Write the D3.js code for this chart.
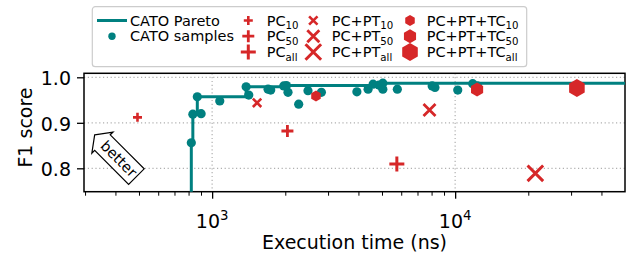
<!DOCTYPE html>
<html><head><meta charset="utf-8">
<script src="https://cdn.jsdelivr.net/npm/d3@7"></script>
<style>
body{margin:0;background:#fff}
svg{display:block}
text{font-family:"DejaVu Sans",sans-serif;fill:#000}
</style>
</head><body>
<svg id="c" width="631" height="255"></svg>
<script>
// ---- data ----
const sampleTime = [821, 833, 901, 869, 1075, 1380, 1415, 1699, 1742, 1971, 2022, 2052, 2271, 2480, 2816, 3942, 4383, 4596, 4856, 5041, 5041, 5783, 8045, 8260, 10250, 11810, 12350];
const sampleF1   = [0.856, 0.919, 0.920, 0.957, 0.948, 0.979, 0.961, 0.974, 0.972, 0.981, 0.982, 0.967, 0.941, 0.9706, 0.967, 0.968, 0.974, 0.985, 0.983, 0.987, 0.974, 0.974, 0.981, 0.9776, 0.972, 0.986, 0.981];
const paretoTime = [821, 821, 833, 869, 1380, 1971, 2022, 4596, 5041, 50000];
const paretoF1   = [0.70, 0.856, 0.919, 0.957, 0.979, 0.981, 0.982, 0.985, 0.987, 0.987];
const methodLabels = ["PC", "PC+PT", "PC+PT+TC"];
const sizeLabels = ["10", "50", "all"];
const methodTime = [[493, 2041, 5756], [1531, 7843, 21380], [2675, 12310, 31700]];
const methodF1   = [[0.912, 0.882, 0.8095], [0.944, 0.928, 0.789], [0.959, 0.973, 0.9765]];
const xMajorTicks = [1000, 10000];
const xMajorExp = ["3", "4"];
const xMinorTicks = [300,400,500,600,700,800,900,2000,3000,4000,5000,6000,7000,8000,9000,20000,30000,40000];
const yTicks = [0.8, 0.9, 1.0];
const yTickLabels = ["0.8", "0.9", "1.0"];
const xLabel = "Execution time (ns)";
const yLabel = "F1 score";
const paretoLabel = "CATO Pareto";
const samplesLabel = "CATO samples";

// ---- layout ----
const TEAL = "#008080", RED = "#d62728";
const L = 84, R = 625, T = 73.3, B = 191.7;
const svg = d3.select("#c");
const x = d3.scaleLog().domain([297, 50000]).range([L, R]);
const y = d3.scaleLinear().domain([0.7486, 1.0088]).range([B, T]);

svg.append("defs").append("clipPath").attr("id", "clip")
  .append("rect").attr("x", L).attr("y", T).attr("width", R - L).attr("height", B - T);

// grid
const grid = svg.append("g").attr("stroke", "#b0b0b0").attr("stroke-width", 1.2).attr("stroke-dasharray", "1.2,2.6");
grid.selectAll(".gx").data(xMajorTicks).join("line")
  .attr("x1", d => x(d)).attr("x2", d => x(d)).attr("y1", T).attr("y2", B);
grid.selectAll(".gy").data(yTicks).join("line")
  .attr("x1", L).attr("x2", R).attr("y1", d => y(d)).attr("y2", d => y(d));

// axes
const xAxis = svg.append("g").attr("transform", `translate(0,${B})`)
  .call(d3.axisBottom(x).tickValues(xMajorTicks).tickSize(7).tickFormat(""));
xAxis.select(".domain").remove();
xAxis.selectAll(".tick line").attr("stroke-width", 1.3);
svg.append("g").attr("transform", `translate(0,${B})`)
  .call(d3.axisBottom(x).tickValues(xMinorTicks).tickSize(4).tickFormat(""))
  .call(g => g.select(".domain").remove())
  .selectAll(".tick line").attr("stroke-width", 1);
xMajorTicks.forEach((t, i) => {
  const tx = svg.append("text").attr("x", x(t)).attr("y", 228).attr("text-anchor", "middle").attr("font-size", 19);
  tx.append("tspan").text("10");
  tx.append("tspan").attr("font-size", 13.3).attr("dy", -8).text(xMajorExp[i]);
});
const yAxis = svg.append("g").attr("transform", `translate(${L},0)`)
  .call(d3.axisLeft(y).tickValues(yTicks).tickSize(7).tickPadding(6).tickFormat((d, i) => yTickLabels[i]));
yAxis.select(".domain").remove();
yAxis.selectAll(".tick line").attr("stroke-width", 1.3);
yAxis.selectAll(".tick text").attr("font-size", 19).attr("font-family", "DejaVu Sans").attr("dy", "0.4em");

// frame
svg.append("rect").attr("x", L).attr("y", T).attr("width", R - L).attr("height", B - T)
  .attr("fill", "none").attr("stroke", "#000").attr("stroke-width", 1.5);

// labels
svg.append("text").attr("x", (L + R) / 2).attr("y", 249).attr("text-anchor", "middle").attr("font-size", 19).text(xLabel);
svg.append("text").attr("transform", "translate(31.5,127.5) rotate(-90)").attr("text-anchor", "middle").attr("font-size", 19).text(yLabel);

// marker shapes
const plusSize = [4.5, 6, 7.5], plusW = [2.6, 2.8, 3];
const xSize = [4.2, 6, 7.8], xW = [2.6, 2.8, 3];
const hexR = [5.5, 7, 9];
function drawMarker(g, m, s, cx, cy) {
  if (m === 0) {
    const h = plusSize[s];
    g.append("path").attr("d", `M${cx - h},${cy}H${cx + h}M${cx},${cy - h}V${cy + h}`)
      .attr("stroke", RED).attr("stroke-width", plusW[s]).attr("fill", "none");
  } else if (m === 1) {
    const h = xSize[s];
    g.append("path").attr("d", `M${cx - h},${cy - h}L${cx + h},${cy + h}M${cx - h},${cy + h}L${cx + h},${cy - h}`)
      .attr("stroke", RED).attr("stroke-width", xW[s]).attr("fill", "none");
  } else {
    const r = hexR[s];
    const pts = d3.range(6).map(k => {
      const a = -Math.PI / 2 + k * Math.PI / 3;
      return [cx + r * Math.cos(a), cy + r * Math.sin(a)];
    });
    g.append("path").attr("d", "M" + pts.map(p => p.join(",")).join("L") + "Z").attr("fill", RED);
  }
}

// data marks
const plot = svg.append("g").attr("clip-path", "url(#clip)");
plot.selectAll("circle").data(sampleTime).join("circle")
  .attr("cx", d => x(d)).attr("cy", (d, i) => y(sampleF1[i])).attr("r", 4.6).attr("fill", TEAL);
const line = d3.line().x(d => x(d[0])).y(d => y(d[1])).curve(d3.curveStepAfter);
plot.append("path").attr("d", line(paretoTime.map((t, i) => [t, paretoF1[i]])))
  .attr("fill", "none").attr("stroke", TEAL).attr("stroke-width", 3);
methodTime.forEach((row, m) => row.forEach((t, s) => drawMarker(plot, m, s, x(t), y(methodF1[m][s]))));

// "better" arrow
const bet = svg.append("g").attr("transform", "translate(117.3,157.5) rotate(45)");
bet.append("path").attr("d", "M-32,0L-21,-15L-21,-11L27,-11L27,11L-21,11L-21,15Z")
  .attr("fill", "#fff").attr("stroke", "#000").attr("stroke-width", 1.2).attr("stroke-linejoin", "miter");
bet.append("text").attr("x", 2).attr("y", 5).attr("text-anchor", "middle").attr("font-size", 14.5).text("better");

// legend
const lg = svg.append("g");
lg.append("rect").attr("x", 92.3).attr("y", 6.7).attr("width", 434.4).attr("height", 60).attr("rx", 3)
  .attr("fill", "#fff").attr("fill-opacity", 0.8).attr("stroke", "#cccccc").attr("stroke-width", 1.2);
const rows = [20.5, 36.2, 52];
const FS = 14.5;
lg.append("line").attr("x1", 97).attr("x2", 127).attr("y1", rows[0]).attr("y2", rows[0]).attr("stroke", TEAL).attr("stroke-width", 3);
lg.append("circle").attr("cx", 112).attr("cy", rows[1]).attr("r", 3.7).attr("fill", TEAL);
lg.append("text").attr("x", 130).attr("y", rows[0] + 5.2).attr("font-size", FS).text(paretoLabel);
lg.append("text").attr("x", 130).attr("y", rows[1] + 5.2).attr("font-size", FS).text(samplesLabel);
const colMarkX = [248.3, 313.3, 410], colTextX = [266.7, 331.7, 426.7];
methodLabels.forEach((lab, m) => {
  sizeLabels.forEach((sz, s) => {
    drawMarker(lg, m, s, colMarkX[m], rows[s]);
    const t = lg.append("text").attr("x", colTextX[m]).attr("y", rows[s] + 5.2).attr("font-size", FS);
    t.append("tspan").text(lab);
    t.append("tspan").attr("font-size", 10.2).attr("dy", 3.3).text(sz);
  });
});
</script>
</body></html>
